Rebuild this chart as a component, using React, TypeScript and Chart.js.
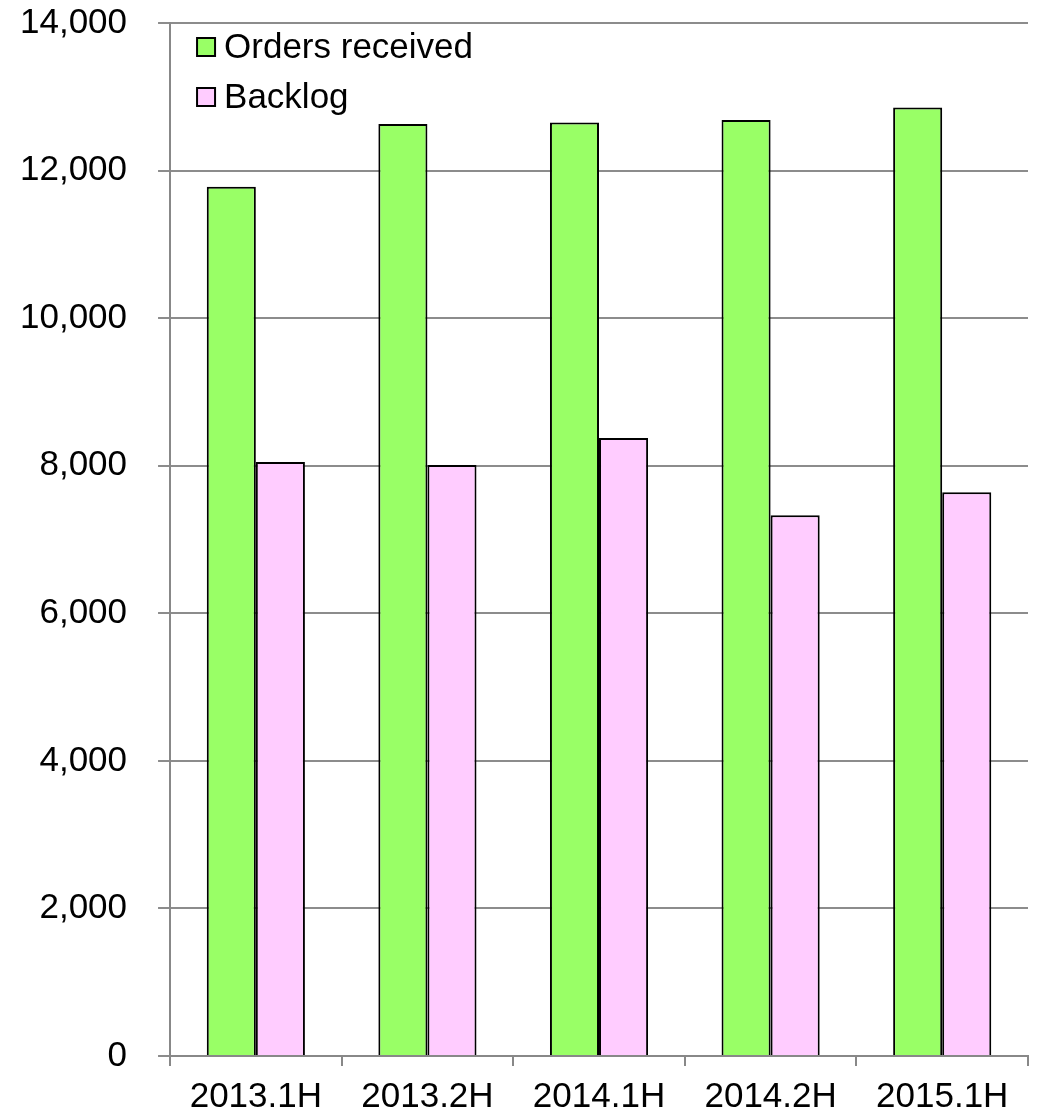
import React, { useEffect, useRef } from 'react';
import { Chart, registerables } from 'chart.js';

Chart.register(...registerables);

const categories = ['2013.1H', '2013.2H', '2014.1H', '2014.2H', '2015.1H'];
const ordersReceived = [11780, 12630, 12650, 12685, 12855];
const backlog = [8050, 8010, 8375, 7330, 7640];
const seriesNames = ['Orders received', 'Backlog'];
const seriesColors = ['#99ff66', '#ffccff'];

const FONT = "'Liberation Sans', Arial, sans-serif";

// legend drawn inside the plot area, top-left
const insideLegend = {
  id: 'insideLegend',
  afterDraw(chart: Chart) {
    const { ctx, chartArea } = chart;
    ctx.save();
    ctx.font = `35px ${FONT}`;
    ctx.textBaseline = 'middle';
    seriesNames.forEach((name, i) => {
      const x = chartArea.left + 27;
      const y = chartArea.top + 24 + i * 50;
      ctx.fillStyle = seriesColors[i];
      ctx.fillRect(x, y - 9, 18, 18);
      ctx.strokeStyle = '#000';
      ctx.lineWidth = 2;
      ctx.strokeRect(x, y - 9, 18, 18);
      ctx.fillStyle = '#000';
      ctx.fillText(name, x + 27, y + 1);
    });
    ctx.restore();
  },
};

export default function App() {
  const canvasRef = useRef<HTMLCanvasElement>(null);
  const chartRef = useRef<Chart | null>(null);

  useEffect(() => {
    document.body.style.margin = '0';
    if (!canvasRef.current) return;
    if (chartRef.current) chartRef.current.destroy();

    chartRef.current = new Chart(canvasRef.current, {
      type: 'bar',
      data: {
        labels: categories,
        datasets: [
          {
            label: seriesNames[0],
            data: ordersReceived,
            backgroundColor: seriesColors[0],
            borderColor: '#000',
            borderWidth: 2,
            borderSkipped: 'bottom',
            categoryPercentage: 0.572,
            barPercentage: 1,
          },
          {
            label: seriesNames[1],
            data: backlog,
            backgroundColor: seriesColors[1],
            borderColor: '#000',
            borderWidth: 2,
            borderSkipped: 'bottom',
            categoryPercentage: 0.572,
            barPercentage: 1,
          },
        ],
      },
      options: {
        responsive: false,
        animation: false,
        layout: { padding: { left: -11, right: 12, top: 23, bottom: -13 } },
        scales: {
          x: {
            grid: {
              offset: true,
              drawOnChartArea: false,
              color: '#888',
              lineWidth: 2,
              tickLength: 10,
            },
            border: { color: '#888', width: 2 },
            ticks: {
              color: '#000',
              font: { family: FONT, size: 35 },
              padding: 10,
              maxRotation: 0,
            },
          },
          y: {
            min: 0,
            max: 14000,
            grid: { color: '#8c8c8c', lineWidth: 2, tickLength: 12 },
            border: { color: '#888', width: 2 },
            ticks: {
              stepSize: 2000,
              color: '#000',
              font: { family: FONT, size: 35 },
              padding: 31,
              callback: (v) => Number(v).toLocaleString('en-US'),
            },
            afterFit: (scale) => {
              // the labels may overhang the plot; don't let them push it down
              scale.paddingTop = 0;
              scale.paddingBottom = 0;
            },
          },
        },
        plugins: {
          legend: { display: false },
          tooltip: { enabled: false },
        },
      },
      plugins: [insideLegend],
    });

    return () => {
      if (chartRef.current) {
        chartRef.current.destroy();
        chartRef.current = null;
      }
    };
  }, []);

  return (
    <div style={{ width: 1040, height: 1115, background: '#fff' }}>
      <canvas ref={canvasRef} width={1040} height={1115} />
    </div>
  );
}
